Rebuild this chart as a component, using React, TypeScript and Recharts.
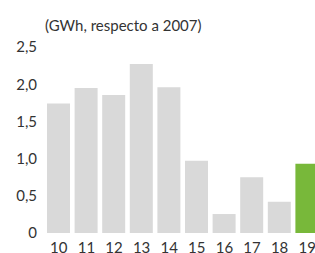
import { BarChart, Bar, XAxis, YAxis, Cell } from "recharts";

const years = ["10", "11", "12", "13", "14", "15", "16", "17", "18", "19"];
const values = [1.74, 1.95, 1.855, 2.27, 1.96, 0.97, 0.255, 0.75, 0.42, 0.93];
const yTicks = [0, 0.5, 1, 1.5, 2, 2.5];

const GRAY = "#d9d9d9";
const GREEN = "#78b83a";
const TEXT = "#333333";
const FONT = "Lato, 'DejaVu Sans', sans-serif";

const data = years.map((y, i) => ({ year: y, value: values[i] }));

const fmt = (v: number) => (v === 0 ? "0" : v.toFixed(1).replace(".", ","));

export default function App() {
  return (
    <div style={{ position: "absolute", left: 0, top: 0, width: 315, height: 253, overflow: "hidden", fontFamily: FONT }}>
      <div style={{ position: "absolute", left: 45, top: 16, fontSize: 15, color: TEXT, whiteSpace: "nowrap" }}>
        (GWh, respecto a 2007)
      </div>
      <BarChart
        width={330}
        height={280}
        data={data}
        margin={{ top: 47, right: 9, bottom: 17, left: 0 }}
        style={{ position: "absolute", left: 0, top: 0 }}
      >
        <XAxis
          dataKey="year"
          axisLine={false}
          tickLine={false}
          tickSize={0}
          tickMargin={9}
          interval={0}
          tick={{ fontSize: 15, fill: TEXT, fontFamily: FONT }}
        />
        <YAxis
          domain={[0, 2.5]}
          ticks={yTicks}
          tickFormatter={fmt}
          axisLine={false}
          tickLine={false}
          tickSize={0}
          tickMargin={8}
          width={45}
          tick={{ fontSize: 15, fill: TEXT, fontFamily: FONT }}
        />
        <Bar dataKey="value" barSize={23} isAnimationActive={false}>
          {data.map((d, i) => (
            <Cell key={d.year} fill={i === data.length - 1 ? GREEN : GRAY} />
          ))}
        </Bar>
      </BarChart>
    </div>
  );
}
